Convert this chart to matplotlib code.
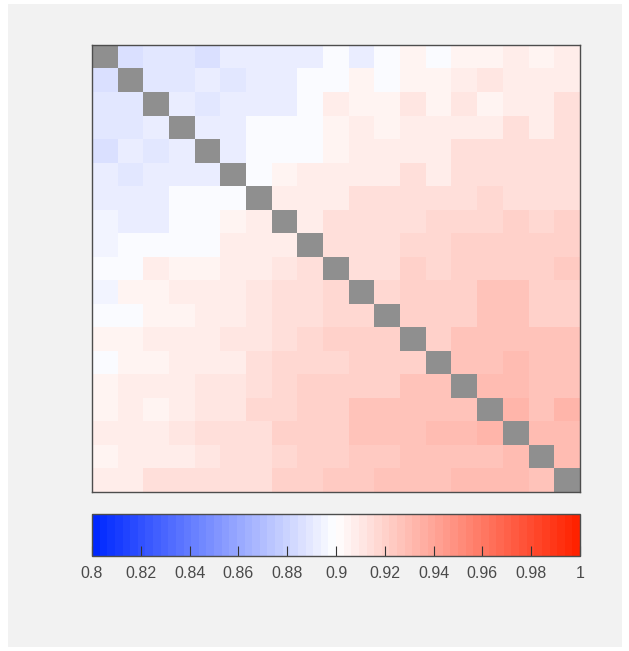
import numpy as np
import matplotlib.pyplot as plt
from matplotlib.colors import LinearSegmentedColormap
from matplotlib.patches import Rectangle

# pairwise similarity matrix (diagonal left empty)
n_items = 19
rows = [
    [np.nan, 0.887, 0.889, 0.889, 0.886, 0.892, 0.892, 0.893, 0.893, 0.897, 0.891, 0.897, 0.905, 0.897, 0.905, 0.905, 0.909, 0.905, 0.909],
    [0.887, np.nan, 0.889, 0.889, 0.893, 0.889, 0.892, 0.892, 0.897, 0.897, 0.905, 0.897, 0.905, 0.905, 0.908, 0.911, 0.909, 0.908, 0.908],
    [0.889, 0.889, np.nan, 0.893, 0.889, 0.893, 0.893, 0.893, 0.897, 0.909, 0.905, 0.905, 0.911, 0.905, 0.911, 0.904, 0.908, 0.908, 0.914],
    [0.889, 0.889, 0.893, np.nan, 0.893, 0.893, 0.897, 0.897, 0.897, 0.905, 0.909, 0.905, 0.909, 0.909, 0.909, 0.909, 0.913, 0.908, 0.913],
    [0.886, 0.892, 0.889, 0.892, np.nan, 0.893, 0.897, 0.897, 0.897, 0.905, 0.908, 0.908, 0.909, 0.909, 0.913, 0.913, 0.914, 0.913, 0.913],
    [0.893, 0.889, 0.893, 0.893, 0.893, np.nan, 0.897, 0.905, 0.909, 0.909, 0.909, 0.909, 0.913, 0.909, 0.913, 0.913, 0.913, 0.913, 0.913],
    [0.892, 0.891, 0.893, 0.897, 0.897, 0.897, np.nan, 0.907, 0.909, 0.909, 0.913, 0.913, 0.913, 0.913, 0.913, 0.916, 0.913, 0.913, 0.913],
    [0.894, 0.891, 0.893, 0.897, 0.897, 0.904, 0.907, np.nan, 0.909, 0.913, 0.913, 0.913, 0.913, 0.916, 0.916, 0.916, 0.920, 0.916, 0.920],
    [0.894, 0.897, 0.897, 0.897, 0.897, 0.908, 0.909, 0.909, np.nan, 0.914, 0.914, 0.914, 0.916, 0.916, 0.920, 0.920, 0.920, 0.920, 0.920],
    [0.897, 0.897, 0.908, 0.905, 0.905, 0.908, 0.909, 0.912, 0.913, np.nan, 0.914, 0.914, 0.920, 0.916, 0.920, 0.920, 0.920, 0.920, 0.923],
    [0.894, 0.905, 0.905, 0.908, 0.908, 0.908, 0.912, 0.913, 0.913, 0.916, np.nan, 0.916, 0.920, 0.920, 0.921, 0.925, 0.925, 0.921, 0.921],
    [0.897, 0.897, 0.905, 0.905, 0.908, 0.908, 0.912, 0.913, 0.913, 0.916, 0.916, np.nan, 0.920, 0.920, 0.921, 0.925, 0.925, 0.921, 0.921],
    [0.905, 0.905, 0.909, 0.908, 0.908, 0.912, 0.912, 0.913, 0.916, 0.920, 0.920, 0.920, np.nan, 0.921, 0.925, 0.925, 0.925, 0.925, 0.928],
    [0.897, 0.905, 0.905, 0.909, 0.909, 0.909, 0.913, 0.916, 0.916, 0.916, 0.920, 0.920, 0.921, np.nan, 0.925, 0.928, 0.931, 0.928, 0.928],
    [0.905, 0.908, 0.909, 0.909, 0.912, 0.912, 0.913, 0.916, 0.920, 0.920, 0.921, 0.921, 0.925, 0.925, np.nan, 0.930, 0.930, 0.928, 0.928],
    [0.905, 0.909, 0.905, 0.909, 0.912, 0.912, 0.916, 0.916, 0.920, 0.920, 0.925, 0.925, 0.925, 0.928, 0.928, np.nan, 0.934, 0.928, 0.932],
    [0.908, 0.909, 0.908, 0.912, 0.913, 0.913, 0.913, 0.921, 0.921, 0.921, 0.927, 0.927, 0.925, 0.931, 0.931, 0.934, np.nan, 0.931, 0.931],
    [0.905, 0.907, 0.907, 0.909, 0.912, 0.913, 0.913, 0.918, 0.921, 0.921, 0.923, 0.923, 0.927, 0.927, 0.928, 0.928, 0.931, np.nan, 0.931],
    [0.908, 0.908, 0.913, 0.913, 0.913, 0.914, 0.914, 0.921, 0.921, 0.923, 0.923, 0.928, 0.928, 0.928, 0.931, 0.931, 0.931, 0.928, np.nan],
]
cbar_ticks = [0.8, 0.82, 0.84, 0.86, 0.88, 0.9, 0.92, 0.94, 0.96, 0.98, 1.0]

data = np.array(rows)

# blue-white-red map, 64 steps
cmap = LinearSegmentedColormap.from_list('bwr64', ['#0028ff', '#ffffff', '#ff2200'], N=64)
cmap.set_bad('#8f8f8f')

W, H = 629, 651
fig = plt.figure(figsize=(W / 100, H / 100), dpi=100, facecolor='white')
fig.patches.append(Rectangle((8 / W, 4 / H), 614 / W, 643 / H, transform=fig.transFigure,
                             facecolor='#f2f2f2', edgecolor='none', zorder=-1))

ax = fig.add_axes([92 / W, 1 - 492 / H, 488 / W, 447 / H])
im = ax.imshow(np.ma.masked_invalid(data), cmap=cmap, vmin=0.8, vmax=1.0,
               aspect='auto', interpolation='nearest')
ax.set_xticks([])
ax.set_yticks([])
for s in ax.spines.values():
    s.set_color('#4d4d4d')
    s.set_linewidth(1.0)

cax = fig.add_axes([92 / W, 1 - 556 / H, 488 / W, 42 / H])
cb = fig.colorbar(im, cax=cax, orientation='horizontal', ticks=cbar_ticks)
cb.ax.set_xticklabels(['%g' % t for t in cbar_ticks])
cb.ax.tick_params(direction='in', length=7, width=0.8, color='#333333',
                  labelsize=11.5, labelcolor='#4a4a4a', pad=7)
for lab in cb.ax.get_xticklabels():
    lab.set_fontfamily('Liberation Sans')
cb.outline.set_edgecolor('#4d4d4d')
cb.outline.set_linewidth(1.0)

fig.savefig('out.png', dpi=100, facecolor=fig.get_facecolor())
